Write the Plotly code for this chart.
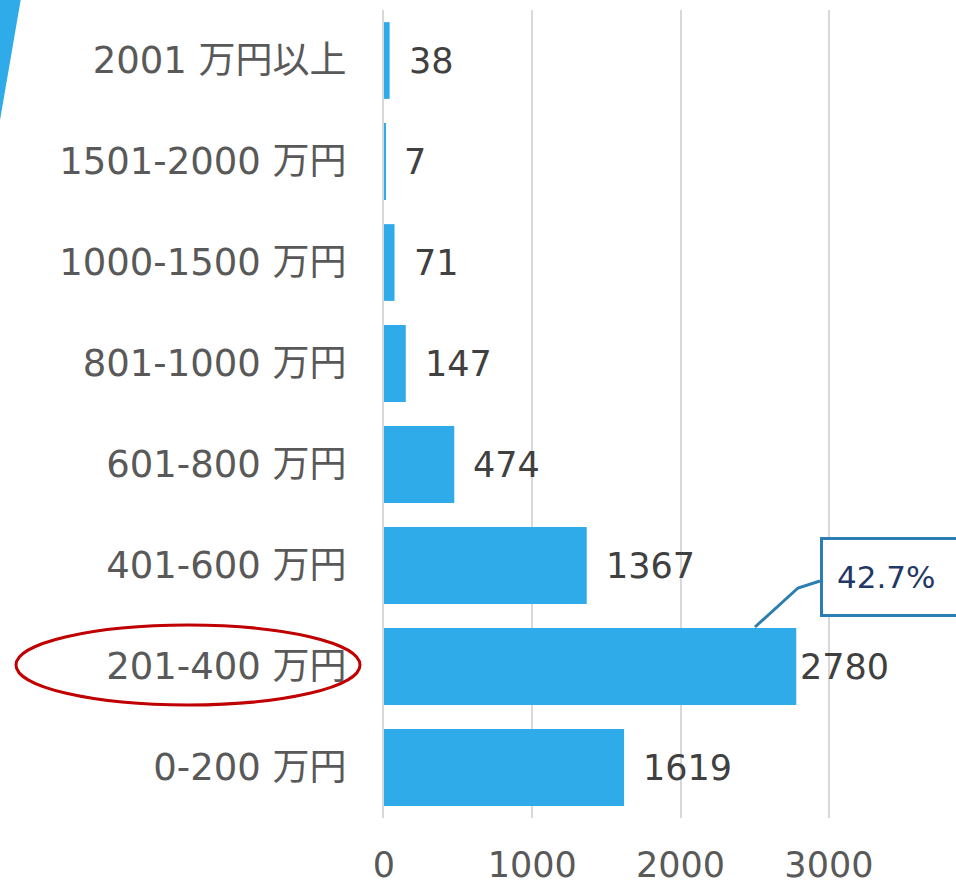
import plotly.graph_objects as go

categories = ["0-200 万円", "201-400 万円", "401-600 万円", "601-800 万円",
              "801-1000 万円", "1000-1500 万円", "1501-2000 万円", "2001 万円以上"]
counts = [1619, 2780, 1367, 474, 147, 71, 7, 38]
x_ticks = [0, 1000, 2000, 3000]
callout_text = "42.7%"
highlight = "201-400 万円"

FONT = "DejaVu Sans, Verdana, Noto Sans CJK JP"
BLUE = "#30ABE9"

W, H = 956, 887
L, R, T, B = 384, 0, 10, 69
pw, ph = W - L - R, H - T - B


def px(x):
    return (x - L) / pw


def py(y):
    return (H - B - y) / ph


fig = go.Figure()

fig.add_trace(go.Bar(
    x=counts,
    y=categories,
    orientation="h",
    marker=dict(color=BLUE, line=dict(width=0)),
    width=0.76,
    hoverinfo="x+y"
))

# value labels next to each bar
top = max(counts)
for c, v in zip(categories, counts):
    fig.add_annotation(
        x=v, y=c, xref="x", yref="y",
        text=str(v), showarrow=False,
        xanchor="left", yanchor="middle",
        xshift=2 if v == top else 17,
        font=dict(family=FONT, size=35, color="#404040")
    )

# callout box for the highlighted bar
fig.add_annotation(
    x=px(820), y=py(577), xref="paper", yref="paper",
    text=callout_text, showarrow=False,
    xanchor="left", yanchor="middle",
    align="left", valign="middle",
    width=140, height=46,
    font=dict(family=FONT, size=31, color="#1F3864"),
    bordercolor="#2C7DB1", borderwidth=3, borderpad=14,
    bgcolor="white"
)
fig.add_shape(
    type="path", xref="paper", yref="paper",
    path="M {} {} L {} {} L {} {}".format(px(755), py(627), px(798), py(588), px(820), py(581)),
    line=dict(color="#2C7DB1", width=3)
)

# red ellipse round the highlighted category label
fig.add_shape(
    type="circle", xref="paper", yref="paper",
    x0=px(16), x1=px(360), y0=py(705), y1=py(625),
    line=dict(color="#C00000", width=3)
)

# blue slanted strip in the top-left corner
fig.add_shape(
    type="path", xref="paper", yref="paper",
    path="M {} {} L {} {} L {} {} Z".format(px(-2), py(-2), px(21), py(-2), px(-2), py(132)),
    fillcolor=BLUE, line=dict(width=0)
)

fig.update_layout(
    width=W, height=H,
    margin=dict(l=L, r=R, t=T, b=B, autoexpand=False),
    paper_bgcolor="white",
    plot_bgcolor="white",
    showlegend=False,
    font=dict(family=FONT, size=35, color="#595959"),
    xaxis=dict(
        range=[0, (W - L) / 0.1483],
        tickvals=x_ticks,
        showgrid=True, gridcolor="#D9D9D9", gridwidth=2,
        zeroline=False, showline=False,
        ticks="", ticklabelstandoff=23, automargin=False,
        tickfont=dict(family=FONT, size=35, color="#595959")
    ),
    yaxis=dict(
        type="category",
        categoryorder="array", categoryarray=categories,
        showgrid=False, zeroline=False,
        showline=True, linecolor="#D9D9D9", linewidth=2,
        ticks="", ticklabelstandoff=28, automargin=False,
        tickfont=dict(family=FONT, size=37, color="#595959")
    )
)

fig.write_html(
    "out.html",
    config={"displayModeBar": False},
    post_script="document.body.style.margin='0px';document.body.style.overflow='hidden';"
)
